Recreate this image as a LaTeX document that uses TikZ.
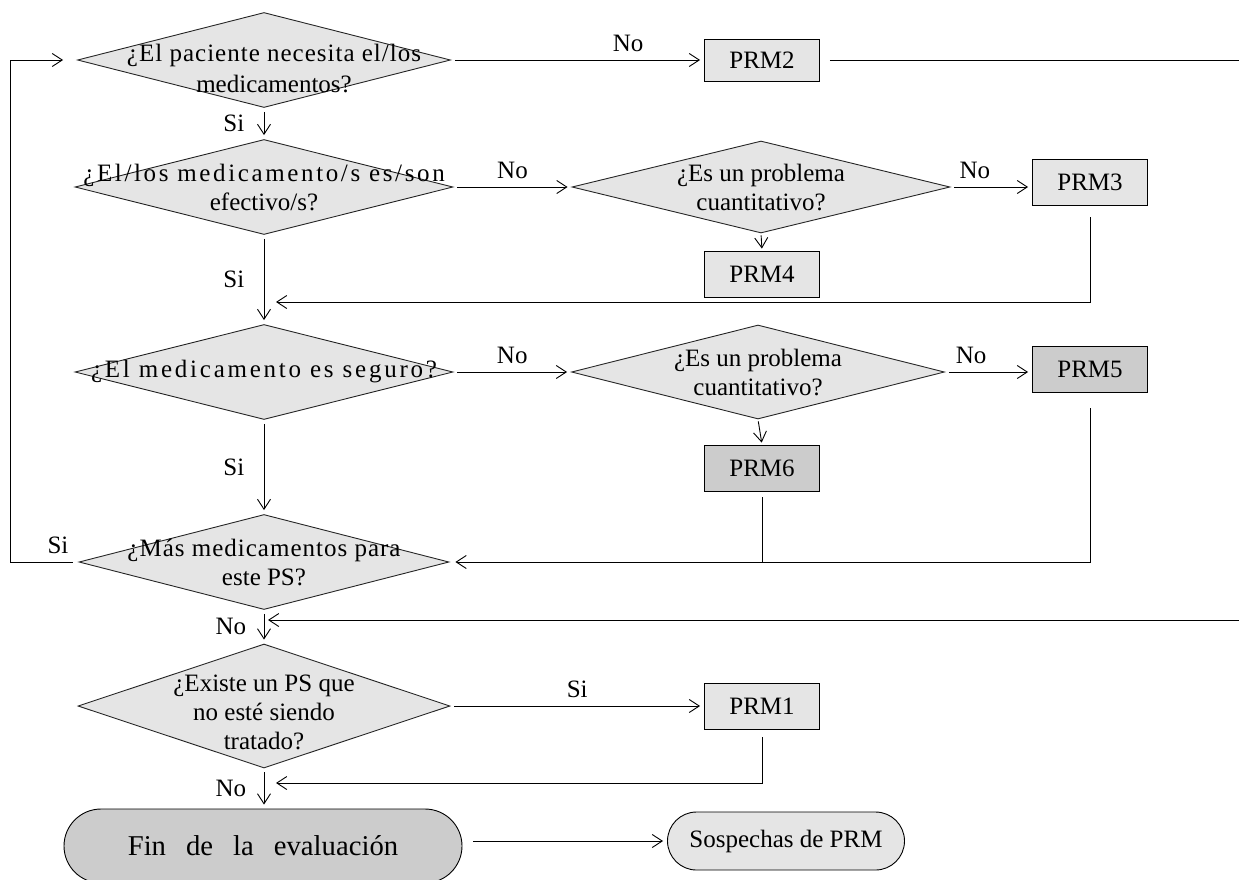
\documentclass[tikz,border=0pt]{standalone}
\usepackage{fontspec}
\setmainfont{Liberation Serif}
\usetikzlibrary{shapes.geometric,shapes.misc,arrows.meta}

\newcommand{\wide}[2]{{\addfontfeature{LetterSpace=#1}#2}}

\tikzset{
  decision/.style={diamond, draw=black!85, fill=gray!20, inner sep=0pt,
    minimum width=#1, minimum height=95pt},
  qtext/.style={align=center, inner sep=0pt},
  prm/.style={rectangle, draw, fill=gray!20, minimum width=115pt, minimum height=46pt},
  prmdark/.style={prm, fill=gray!40},
  terminal/.style={rounded rectangle, draw, fill=gray!20, inner sep=0pt},
  flow/.style={-{Straight Barb[length=10pt,width=13pt]}, shorten <=4pt, shorten >=4pt},
  link/.style={shorten <=8pt}
}

\begin{document}
\begin{tikzpicture}[x=1pt, y=-1pt, line width=0.9pt, font=\fontsize{25}{29}\selectfont]
  \useasboundingbox (0,0) rectangle (1239,879);

  % decisions, left column
  \node[decision=373pt, label={[qtext, yshift=-8pt, xshift=10pt, font=\fontsize{25}{31}\selectfont]center:{\wide{4}{¿El paciente necesita el/los}\\medicamentos?}}] (d1) at (264,60) {};
  \node[decision=378pt, label={[qtext]center:{\wide{10.5}{¿El/los medicamento/s es/son}\\efectivo/s?}}] (d2) at (264,187) {};
  \node[decision=378pt, label={[qtext]center:{\wide{11}{¿El medicamento es seguro?}}}] (d4) at (264,372) {};
  \node[decision=370pt, label={[qtext]center:{\wide{4}{¿Más medicamentos para}\\este PS?}}] (d6) at (264,562) {};
  \node[decision=372pt, minimum height=124pt, label={[qtext, yshift=-6pt]center:{¿Existe un PS que\\no esté siendo\\tratado?}}] (d7) at (264,706) {};

  % decisions, middle column
  \node[decision=378pt, minimum height=92pt, label={[qtext]center:{¿Es un problema\\cuantitativo?}}] (d3) at (761,187) {};
  \node[decision=373pt, minimum height=94pt, label={[qtext]center:{¿Es un problema\\cuantitativo?}}] (d5) at (758,372) {};

  % outcomes
  \node[prm, minimum height=42pt] (p2) at (762,60) {PRM2};
  \node[prm] (p3) at (1090,182) {PRM3};
  \node[prm] (p4) at (762,274) {PRM4};
  \node[prmdark] (p5) at (1090,369) {PRM5};
  \node[prmdark] (p6) at (762,468) {PRM6};
  \node[prm] (p1) at (762,706) {PRM1};

  \node[terminal, fill=gray!40, minimum width=398pt, minimum height=74pt,
    font=\fontsize{28.7}{33}\selectfont] (fin) at (263,846) {\spaceskip=20pt Fin de la evaluación};
  \node[terminal, minimum width=237pt, minimum height=58pt] (sos) at (786,841) {Sospechas de PRM};

  % junctions on the main line
  \coordinate (j1) at (264,302);
  \coordinate (j3) at (264,620);
  \coordinate (j4) at (264,783);
  \coordinate (rim) at (1250,0);
  \coordinate (lx) at (10,0);

  % main line
  \draw[flow] (d1.south) -- node[left=16pt] {Si} (d2.north);
  \draw[flow] (d2.south) -- node[left=16pt] {Si} (d4.north);
  \draw[flow] (d4.south) -- node[left=16pt] {Si} (d6.north);
  \draw[flow] (d6.south) -- node[left=14pt] {No} (d7.north);
  \draw[flow] (d7.south) -- node[left=14pt] {No} (d7.south |- fin.north);
  \draw[flow, shorten <=11pt] (fin.east |- sos.west) -- (sos.west);

  % branches
  \draw[flow] (d1.east) -- node[above=4pt, pos=0.7] {No} (p2.west);
  \draw[flow] (d2.east) -- node[above=4pt] {No} (d3.west);
  \draw[flow] (d3.east) -- node[above=4pt, pos=0.3] {No} (d3.east -| p3.west);
  \draw[flow, shorten <=2pt, shorten >=2pt] (d3.south) -- (p4.north);
  \draw[flow] (d4.east) -- node[above=4pt] {No} (d5.west);
  \draw[flow] (d5.east) -- node[above=4pt, pos=0.3] {No} (d5.east -| p5.west);
  \draw[flow, shorten <=2pt, shorten >=2pt] (d5.south) -- (p6.north);
  \draw[flow] (d7.east) -- node[above=4pt] {Si} (p1.west);

  % returns
  \draw[flow, shorten <=10pt] (p2.east) -- (p2.east -| rim) |- (j3);
  \draw[flow, shorten <=12pt, shorten >=12pt] (p3.south) |- (j1);
  \draw[flow, shorten <=16pt, shorten >=6pt] (p5.south) |- (d6.east);
  \draw[link, shorten <=6pt] (p6.south) -- (p6.south |- d6.east);
  \draw[flow, shorten <=8pt, shorten >=12pt] (p1.south) |- (j4);
  \draw[flow, shorten <=6pt, shorten >=14pt] (d6.west) -- node[above=4pt, pos=0.3] {Si} (d6.west -| lx)
    -- (d1.west -| lx) -- (d1.west);
\end{tikzpicture}
\end{document}
